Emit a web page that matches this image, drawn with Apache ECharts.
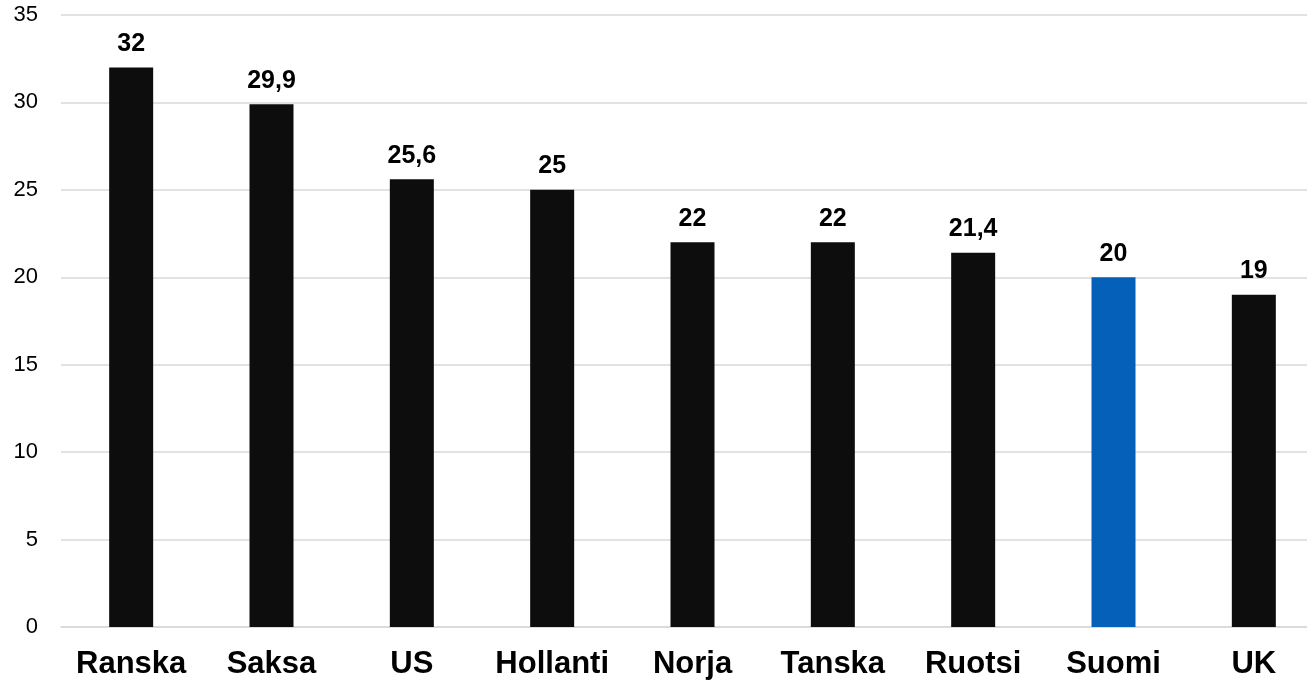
<!DOCTYPE html>
<html><head><meta charset="utf-8">
<script src="https://cdn.jsdelivr.net/npm/echarts@6/dist/echarts.min.js"></script>
<style>html,body{margin:0;padding:0;background:#fff;overflow:hidden;width:1307px;height:681px}#c{width:1324px;height:681px}</style>
</head><body><div id="c"></div>
<script>
const categories = ["Ranska","Saksa","US","Hollanti","Norja","Tanska","Ruotsi","Suomi","UK"];
const values = [32, 29.9, 25.6, 25, 22, 22, 21.4, 20, 19];
const highlight = "Suomi";
const yTicks = [0,5,10,15,20,25,30,35];

const chart = echarts.init(document.getElementById('c'));
chart.setOption({
  animation:false,
  grid:{left:61,right:0,top:15,bottom:54},
  xAxis:{type:'category',data:categories,
    axisLine:{show:true,lineStyle:{color:'#d9d9d9',width:1.5}},axisTick:{show:false},
    axisLabel:{color:'#000',fontFamily:'Liberation Sans, Arial',fontWeight:'bold',fontSize:31,margin:22,interval:0}},
  yAxis:{type:'value',min:0,max:35,interval:5,
    axisLine:{show:false},axisTick:{show:false},
    splitLine:{lineStyle:{color:'#d9d9d9',width:1.5}},
    axisLabel:{color:'#000',fontFamily:'Liberation Sans, Arial',fontSize:22,margin:23}},
  series:[{type:'bar',barWidth:44,
    data:values.map((v,i)=>({value:v,itemStyle:{color:categories[i]===highlight?'#0560b9':'#0d0d0d'}})),
    label:{show:true,position:'top',distance:11,color:'#000',fontFamily:'Liberation Sans, Arial',fontWeight:'bold',fontSize:25,
      formatter:p=>String(p.value).replace('.',',')}}]
});
</script></body></html>
